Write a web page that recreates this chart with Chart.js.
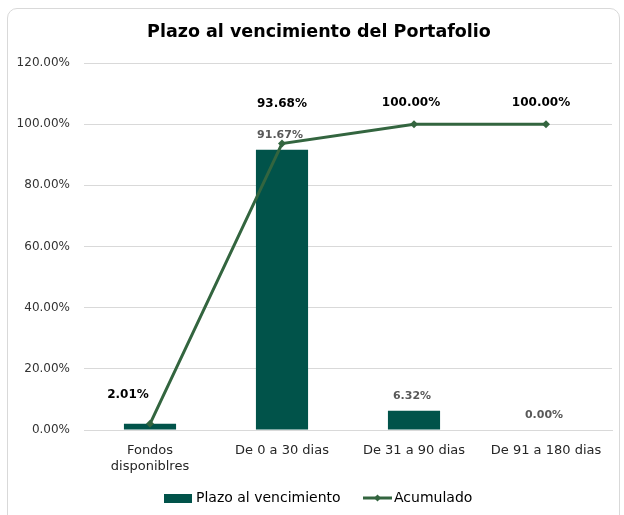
<!DOCTYPE html>
<html>
<head>
<meta charset="utf-8">
<script src="https://cdn.jsdelivr.net/npm/chart.js@4.4.1/dist/chart.umd.min.js"></script>
<style>
html,body{margin:0;padding:0;background:#fff;width:624px;height:515px;overflow:hidden;}
#frame{position:absolute;left:7px;top:8px;width:613px;height:530px;border:1px solid #d9d9d9;border-radius:10px;box-sizing:border-box;}
#c{position:absolute;left:0;top:0;}
</style>
</head>
<body>
<div id="frame"></div>
<canvas id="c" width="624" height="515"></canvas>
<script>
const title = 'Plazo al vencimiento del Portafolio';
const categories = [['Fondos', 'disponiblres'], 'De 0 a 30 dias', 'De 31 a 90 dias', 'De 91 a 180 dias'];
const plazoValues = [2.01, 91.67, 6.32, 0.00];
const acumuladoValues = [2.01, 93.68, 100.00, 100.00];
const seriesNames = ['Plazo al vencimiento', 'Acumulado'];
const yTicks = [0, 20, 40, 60, 80, 100, 120];
// label offsets (style only) for cumulative series labels: [dx, dy]
const acumLabelOffsets = [[-22, -29], [0, -40], [-3, -21], [-5, -21]];
const showBarLabel = [false, true, true, true];

const FONT = '"DejaVu Sans", Verdana, sans-serif';
const BAR_COLOR = '#01534a';
const LINE_COLOR = '#33653f';

const fmt = v => v.toFixed(2) + '%';

const overlay = {
  id: 'overlay',
  afterDatasetsDraw(chart) {
    const ctx = chart.ctx;
    ctx.save();
    // title
    ctx.fillStyle = '#000';
    ctx.font = 'bold 17.5px ' + FONT;
    ctx.textAlign = 'center';
    ctx.textBaseline = 'middle';
    ctx.fillText(title, 319, 32);
    // bar labels
    const barMeta = chart.getDatasetMeta(1);
    ctx.font = 'bold 11px ' + FONT;
    ctx.fillStyle = '#595959';
    barMeta.data.forEach((el, i) => {
      if (!showBarLabel[i]) return;
      ctx.fillText(fmt(plazoValues[i]), el.x - 2, el.y - 15);
    });
    // line labels
    const lineMeta = chart.getDatasetMeta(0);
    ctx.font = 'bold 12px ' + FONT;
    ctx.fillStyle = '#000';
    lineMeta.data.forEach((el, i) => {
      const o = acumLabelOffsets[i];
      ctx.fillText(fmt(acumuladoValues[i]), el.x + o[0], el.y + o[1]);
    });
    // legend
    const ly = 498;
    ctx.fillStyle = BAR_COLOR;
    ctx.fillRect(164, ly - 4, 28, 9);
    ctx.fillStyle = '#000';
    ctx.font = '14px ' + FONT;
    ctx.textAlign = 'left';
    ctx.fillText(seriesNames[0], 196, ly);
    ctx.strokeStyle = LINE_COLOR;
    ctx.lineWidth = 3;
    ctx.beginPath();
    ctx.moveTo(363, ly);
    ctx.lineTo(392, ly);
    ctx.stroke();
    ctx.fillStyle = LINE_COLOR;
    ctx.beginPath();
    ctx.moveTo(377.5, ly - 3.5);
    ctx.lineTo(381, ly);
    ctx.lineTo(377.5, ly + 3.5);
    ctx.lineTo(374, ly);
    ctx.closePath();
    ctx.fill();
    ctx.fillStyle = '#000';
    ctx.fillText(seriesNames[1], 394, ly);
    ctx.restore();
  }
};

new Chart(document.getElementById('c'), {
  data: {
    labels: categories,
    datasets: [
      {
        type: 'line',
        label: seriesNames[1],
        data: acumuladoValues,
        borderColor: LINE_COLOR,
        backgroundColor: LINE_COLOR,
        borderWidth: 3,
        pointStyle: 'rectRot',
        pointRadius: 4,
        pointBackgroundColor: LINE_COLOR,
        pointBorderWidth: 0,
        tension: 0,
        order: 0
      },
      {
        type: 'bar',
        label: seriesNames[0],
        data: plazoValues,
        backgroundColor: BAR_COLOR,
        barPercentage: 0.395,
        categoryPercentage: 1,
        order: 1
      }
    ]
  },
  options: {
    responsive: false,
    animation: false,
    events: [],
    layout: { padding: { left: 0, right: 12, top: 63, bottom: 35 } },
    plugins: { legend: { display: false }, title: { display: false }, tooltip: { enabled: false } },
    scales: {
      x: {
        grid: { display: false },
        border: { display: true, color: '#d9d9d9', width: 1 },
        ticks: { color: '#262626', font: { family: FONT, size: 13 }, padding: 5, maxRotation: 0, autoSkip: false },
        afterFit(s) { s.height = 50; }
      },
      y: {
        min: 0, max: 120,
        afterBuildTicks(s) { s.ticks = yTicks.map(v => ({ value: v })); },
        grid: { color: '#d9d9d9', drawTicks: false },
        border: { display: false },
        ticks: { color: '#333333', font: { family: FONT, size: 12 }, padding: 14, callback: v => fmt(v) },
        afterFit(s) { s.width = 84; }
      }
    }
  },
  plugins: [overlay]
});
</script>
</body>
</html>
